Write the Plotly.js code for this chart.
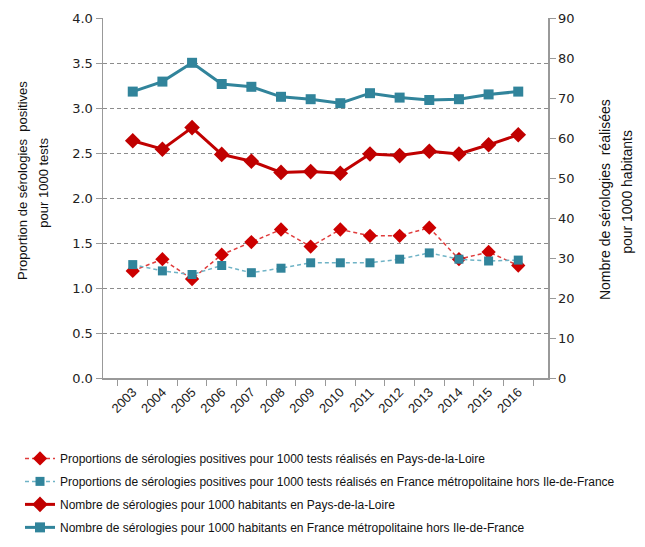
<!DOCTYPE html>
<html>
<head>
<meta charset="utf-8">
<script src="https://cdn.plot.ly/plotly-3.0.1.min.js"></script>
<style>
  html, body { margin: 0; padding: 0; background: #ffffff; }
  #chart { width: 645px; height: 547px; }
</style>
</head>
<body>
<div id="chart"></div>
<script>
// Années
const years = ['2003','2004','2005','2006','2007','2008','2009','2010','2011','2012','2013','2014','2015','2016'];

// Proportion de sérologies positives pour 1000 tests (axe gauche)
const positivesPdl    = [1.19, 1.32, 1.10, 1.37, 1.51, 1.65, 1.46, 1.65, 1.58, 1.58, 1.67, 1.32, 1.40, 1.25];
const positivesFrance = [1.26, 1.19, 1.15, 1.25, 1.17, 1.22, 1.28, 1.28, 1.28, 1.32, 1.39, 1.32, 1.30, 1.31];

// Nombre de sérologies pour 1000 habitants (axe droit)
const testsPdl    = [59.3, 57.2, 62.6, 55.9, 54.2, 51.4, 51.6, 51.2, 56.0, 55.6, 56.7, 56.0, 58.3, 60.8];
const testsFrance = [71.6, 74.1, 78.8, 73.5, 72.8, 70.3, 69.7, 68.7, 71.2, 70.1, 69.5, 69.7, 70.9, 71.6];

// Titres des axes, une ligne par entrée
const leftTitleLines  = ['Proportion de sérologies  positives', 'pour 1000 tests'];
const rightTitleLines = ['Nombre de sérologies  réalisées', 'pour 1000 habitants'];

const RED = '#C00000';
const BLUE = '#31849B';

const traces = [
  {
    x: years, y: positivesPdl, yaxis: 'y', type: 'scatter', mode: 'lines+markers',
    name: 'Proportions de sérologies positives pour 1000 tests réalisés en Pays-de-la-Loire',
    legendgroup: 'a',
    line: { color: '#E03C3C', width: 1.5, dash: '4px,3px' },
    marker: { symbol: 'diamond', size: 11, color: '#CC0000' }
  },
  {
    x: years, y: positivesFrance, yaxis: 'y', type: 'scatter', mode: 'lines+markers',
    name: 'Proportions de sérologies positives pour 1000 tests réalisés en France métropolitaine hors Ile-de-France',
    legendgroup: 'b',
    line: { color: '#6FB3C6', width: 1.5, dash: '4px,3px' },
    marker: { symbol: 'square', size: 9, color: BLUE }
  },
  {
    x: years, y: testsPdl, yaxis: 'y2', type: 'scatter', mode: 'lines+markers',
    name: 'Nombre de sérologies pour 1000 habitants en Pays-de-la-Loire',
    legendgroup: 'c',
    line: { color: RED, width: 3 },
    marker: { symbol: 'diamond', size: 12, color: RED }
  },
  {
    x: years, y: testsFrance, yaxis: 'y2', type: 'scatter', mode: 'lines+markers',
    name: 'Nombre de sérologies pour 1000 habitants en France métropolitaine hors Ile-de-France',
    legendgroup: 'd',
    line: { color: BLUE, width: 3 },
    marker: { symbol: 'square', size: 10, color: BLUE }
  }
];

const tickFont = { family: 'DejaVu Sans, Verdana, sans-serif', size: 13, color: '#222222' };

function titleLine(text, x, y, size) {
  return {
    text: text, xref: 'paper', yref: 'paper', x: x, y: y,
    xanchor: 'center', yanchor: 'middle', textangle: -90, showarrow: false,
    font: { family: 'Liberation Sans, Arial, sans-serif', size: size, color: '#111111' }
  };
}

const layout = {
  width: 645,
  height: 547,
  margin: { l: 103, r: 97, t: 18, b: 169, autoexpand: false },
  paper_bgcolor: '#ffffff',
  plot_bgcolor: '#ffffff',
  showlegend: true,
  legend: {
    x: -0.1865, xanchor: 'left',
    y: -0.183, yanchor: 'top',
    traceorder: 'grouped',
    tracegroupgap: 4,
    font: { family: 'Liberation Sans, Arial, sans-serif', size: 12, color: '#111111' },
    bgcolor: 'rgba(0,0,0,0)'
  },
  xaxis: {
    type: 'category',
    tickangle: -45,
    tickson: 'boundaries',
    ticks: 'outside', ticklen: 6, tickcolor: '#999999',
    showline: true, linecolor: '#999999', linewidth: 1.5,
    showgrid: false, automargin: false,
    tickfont: { family: 'Liberation Sans, Arial, sans-serif', size: 13, color: '#222222' }
  },
  yaxis: {
    range: [0, 4], dtick: 0.5, tickformat: '.1f',
    ticks: 'outside', ticklen: 6, tickcolor: '#999999',
    showline: true, linecolor: '#999999', linewidth: 1.5,
    showgrid: true, gridcolor: '#8c8c8c', gridwidth: 1, griddash: '4px,3px',
    zeroline: false, automargin: false,
    tickfont: tickFont
  },
  yaxis2: {
    overlaying: 'y', side: 'right',
    range: [0, 90], dtick: 10,
    ticks: 'outside', ticklen: 6, tickcolor: '#999999',
    showline: true, linecolor: '#999999', linewidth: 1.5,
    showgrid: false, zeroline: false, automargin: false,
    tickfont: tickFont
  },
  annotations: [
    titleLine(leftTitleLines[0], -0.180, 0.550, 13),
    titleLine(leftTitleLines[1], -0.133, 0.542, 13),
    titleLine(rightTitleLines[0], 1.128, 0.497, 14),
    titleLine(rightTitleLines[1], 1.1775, 0.517, 14)
  ]
};

Plotly.newPlot('chart', traces, layout, { displayModeBar: false, staticPlot: true });
</script>
</body>
</html>
